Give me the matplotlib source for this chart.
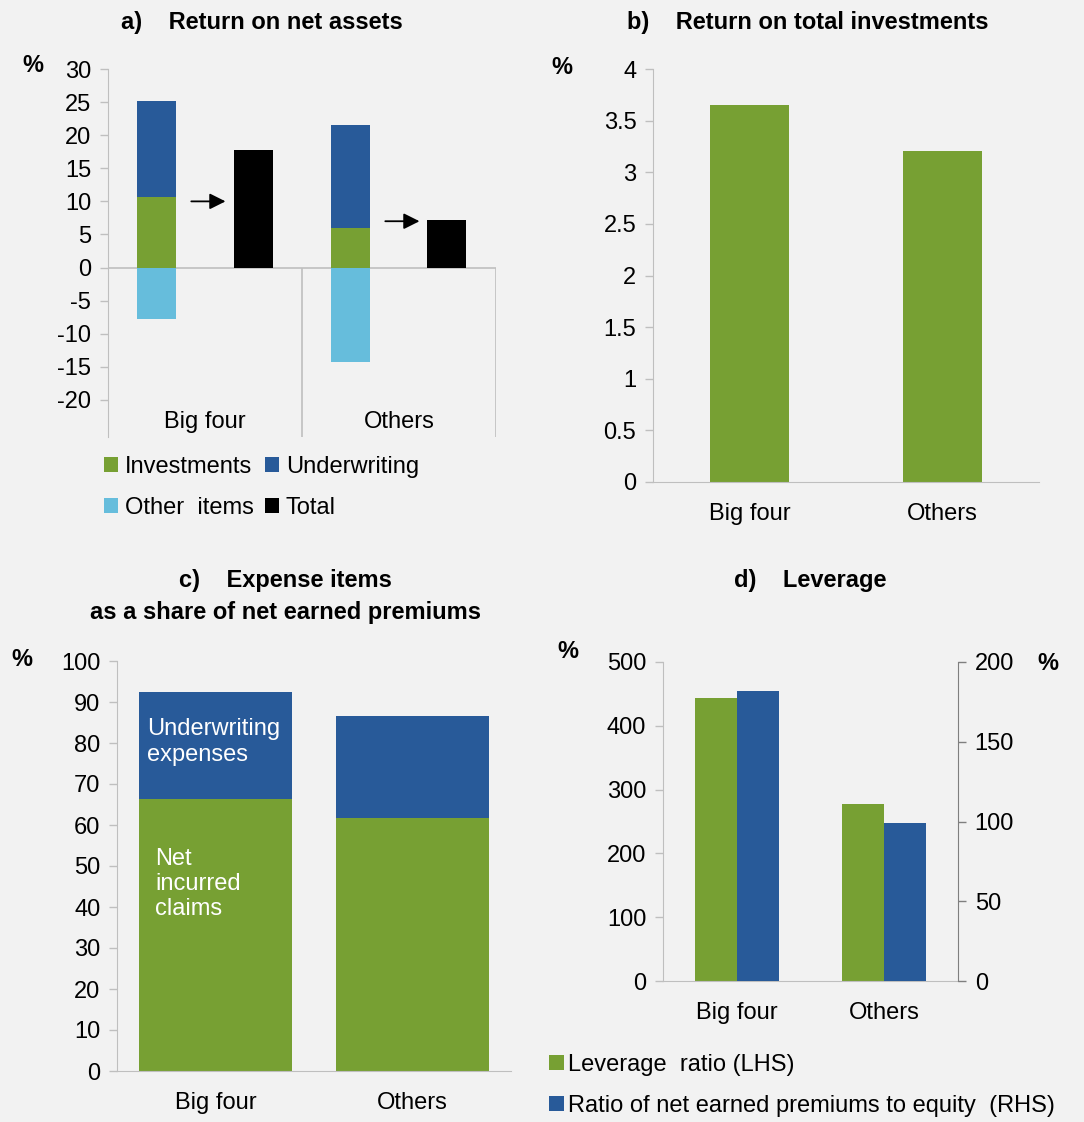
import matplotlib.pyplot as plt
import numpy as np

# data
groups = ['Big four', 'Others']
investments = [10.7, 6.0]
underwriting = [14.5, 15.5]
other_items = [-7.8, -14.3]
total = [17.7, 7.2]

return_invest = [3.65, 3.21]

net_claims = [66.3, 61.7]
underwriting_exp = [26.2, 24.9]

leverage_ratio = [443, 277]
premiums_equity = [182, 99]

green = '#77A033'
blue = '#285A99'
light_blue = '#66BDDC'
axis_gray = '#BFBFBF'
bg = '#F2F2F2'

plt.rcParams['font.family'] = ['Liberation Sans', 'DejaVu Sans']
plt.rcParams['font.size'] = 17
plt.rcParams['axes.unicode_minus'] = False

fig = plt.figure(figsize=(10.84, 11.22), dpi=100)
fig.set_facecolor(bg)
W, H = 1084, 1122
TFS = 17  # title size


def make_ax(x0, y0, x1, y1):
    # pixel box -> figure axes
    ax = fig.add_axes([x0 / W, 1 - y1 / H, (x1 - x0) / W, (y1 - y0) / H])
    ax.set_facecolor(bg)
    for s in ['top', 'right']:
        ax.spines[s].set_visible(False)
    ax.spines['left'].set_color(axis_gray)
    ax.spines['bottom'].set_color(axis_gray)
    ax.tick_params(axis='y', colors=axis_gray, labelcolor='black', length=6, width=1, pad=6)
    ax.tick_params(axis='x', length=0, pad=15)
    return ax


# a) Return on net assets
ax = make_ax(108, 69, 496, 437)
xs = np.array([0.25, 1.25])
xt = np.array([0.75, 1.745])
bw = 0.205
b_inv = ax.bar(xs, investments, bw, color=green)
b_und = ax.bar(xs, underwriting, bw, bottom=investments, color=blue)
b_oth = ax.bar(xs, other_items, bw, color=light_blue)
b_tot = ax.bar(xt, total, bw, color='black')
ax.set_xlim(0, 2)
ax.set_ylim(-25.6, 30)
ax.set_yticks(np.arange(-20, 31, 5))
ax.spines['bottom'].set_visible(False)
ax.axhline(0, color=axis_gray, lw=1.2, zorder=0)
ax.vlines([1, 2], -25.6, 0, color=axis_gray, lw=1.2)
ax.set_xticks([])
for i, g in enumerate(groups):
    ax.text(i + 0.5, -23.3, g, ha='center', va='center')
for i, y in enumerate([10, 7]):
    x0 = xs[i] + 0.165
    ax.annotate('', xy=(x0 + 0.205, y), xytext=(x0, y),
                arrowprops=dict(arrowstyle='-|>', color='black', lw=1.3, mutation_scale=24))
# column-wise fill -> rows: Investments/Underwriting, Other items/Total
ax.legend([b_inv, b_oth, b_und, b_tot], ['Investments', 'Other  items', 'Underwriting', 'Total'],
          loc='upper left', bbox_to_anchor=(-0.035, -0.025), ncol=2, frameon=False,
          handlelength=0.6, handleheight=0.6, handletextpad=0.3, columnspacing=0.45,
          labelspacing=0.8, borderaxespad=0)
fig.text(262 / W, 1 - 22 / H, 'a)    Return on net assets', ha='center', va='center',
         fontsize=TFS, fontweight='bold')
fig.text(33 / W, 1 - 66 / H, '%', ha='center', va='center', fontsize=TFS, fontweight='bold')

# b) Return on total investments
ax = make_ax(653, 69, 1039, 482)
ax.bar([0.5, 1.5], return_invest, 0.405, color=green)
ax.set_xlim(0, 2)
ax.set_ylim(0, 4)
ax.set_yticks(np.arange(0, 4.01, 0.5))
ax.set_yticklabels(['0', '0.5', '1', '1.5', '2', '2.5', '3', '3.5', '4'])
ax.set_xticks([0.5, 1.5])
ax.set_xticklabels(groups)
fig.text(808 / W, 1 - 22 / H, 'b)    Return on total investments', ha='center', va='center',
         fontsize=TFS, fontweight='bold')
fig.text(562 / W, 1 - 68 / H, '%', ha='center', va='center', fontsize=TFS, fontweight='bold')

# c) Expense items
ax = make_ax(117, 661, 511, 1071)
xc = [0.5, 1.5]
ax.bar(xc, net_claims, 0.775, color=green)
ax.bar(xc, underwriting_exp, 0.775, bottom=net_claims, color=blue)
ax.set_xlim(0, 2)
ax.set_ylim(0, 100)
ax.set_yticks(np.arange(0, 101, 10))
ax.set_xticks(xc)
ax.set_xticklabels(groups)
ax.text(0.152, 80.2, 'Underwriting\nexpenses', color='white', ha='left', va='center',
        linespacing=1.2)
ax.text(0.193, 45.6, 'Net\nincurred\nclaims', color='white', ha='left', va='center',
        linespacing=1.17)
fig.text(285 / W, 1 - 597 / H, 'c)    Expense items\nas a share of net earned premiums',
         ha='center', va='center', fontsize=TFS, fontweight='bold', linespacing=1.5)
fig.text(22 / W, 1 - 659 / H, '%', ha='center', va='center', fontsize=TFS, fontweight='bold')

# d) Leverage
ax = make_ax(663, 662, 958, 981)
bw = 0.284
ax.bar(np.array([0.5, 1.5]) - bw / 2, leverage_ratio, bw, color=green, label='Leverage  ratio (LHS)')
ax.set_xlim(0, 2)
ax.set_ylim(0, 500)
ax.set_yticks(np.arange(0, 501, 100))
ax.set_xticks([0.5, 1.5])
ax.set_xticklabels(groups)
ax2 = ax.twinx()
ax2.bar(np.array([0.5, 1.5]) + bw / 2, premiums_equity, bw, color=blue,
        label='Ratio of net earned premiums to equity  (RHS)')
ax2.set_ylim(0, 200)
ax2.set_yticks(np.arange(0, 201, 50))
for s in ['top', 'left', 'bottom']:
    ax2.spines[s].set_visible(False)
ax2.spines['right'].set_color('#7F7F7F')
ax2.tick_params(axis='y', colors='#7F7F7F', labelcolor='black', length=6, width=1, pad=6)
h1, l1 = ax.get_legend_handles_labels()
h2, l2 = ax2.get_legend_handles_labels()
ax2.legend(h1 + h2, l1 + l2, loc='upper left', bbox_to_anchor=(-0.417, -0.2), frameon=False,
           handlelength=0.6, handleheight=0.6, handletextpad=0.2, labelspacing=0.8,
           borderaxespad=0)
fig.text(810 / W, 1 - 581 / H, 'd)    Leverage', ha='center', va='center',
         fontsize=TFS, fontweight='bold')
fig.text(568 / W, 1 - 651 / H, '%', ha='center', va='center', fontsize=TFS, fontweight='bold')
fig.text(1048 / W, 1 - 663 / H, '%', ha='center', va='center', fontsize=TFS, fontweight='bold')

fig.savefig('out.png', dpi=100, facecolor=bg)
